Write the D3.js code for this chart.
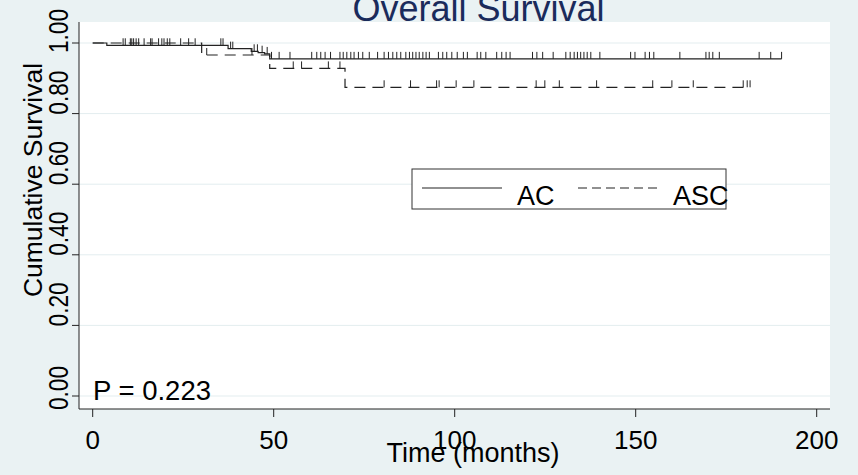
<!DOCTYPE html>
<html>
<head>
  <meta charset="utf-8" />
  <style>
    body { margin: 0; background: #eaf2f3; }
    svg { display: block; font-family: "Liberation Sans", Arial, sans-serif; }
  </style>
</head>
<body>
  <svg width="858" height="475"></svg>

  <script src="https://d3js.org/d3.v7.min.js"></script>
  <script>
    // step points of the two Kaplan-Meier curves (months, survival)
    var acTimes = [0, 3.9, 37.4, 43.8, 45.7, 47.5, 48.9];
    var acSurv = [1, 0.9935, 0.984, 0.9765, 0.9725, 0.969, 0.955];
    var acEnd = 190.3;

    var ascTimes = [0, 30.1, 48.9, 69.7];
    var ascSurv = [1, 0.966, 0.928, 0.8745];
    var ascEnd = 181.6;

    // censored observations
    var acCensor = [8.4, 9.0, 10.4, 10.8, 11.3, 12.0, 12.7, 14.2, 16.0, 16.4, 18.2, 19.1, 19.7, 20.6,
      21.3, 24.3, 26.5, 28.3, 35.4, 36.0, 38.1, 38.7, 44.6, 45.5, 46.8, 48.2,
      49.4, 51.5, 54.5, 60.5, 61.9, 63.0, 64.2, 65.7, 68.3, 69.2, 70.2, 71.3, 72.2, 73.4, 74.6,
      76.4, 78.7, 80.5, 81.7, 82.9, 84.0, 85.1, 86.5, 87.5, 88.4, 89.3, 90.2, 91.2, 92.1, 93.0,
      95.5, 96.7, 97.8, 99.2, 100.7, 102.4, 103.5, 106.2, 107.2, 108.6, 111.6, 113.0, 114.2,
      115.3, 121.5, 122.7, 124.3, 127.2, 130.7, 131.9, 133.0, 133.9, 134.8, 135.7, 136.6, 137.6,
      140.1, 148.6, 149.8, 152.6, 153.8, 155.0, 162.2, 169.4, 170.3, 171.3, 173.1, 184.1, 187.3, 190.3];
    var ascCensor = [31.5, 44.0, 55.4, 57.7, 65.1, 68.3, 80.5, 87.8, 95.0, 95.7, 100.4, 105.3,
      122.5, 124.9, 128.9, 139.2, 154.7, 160.0, 165.9, 179.7, 180.8, 181.6];

    var xTicks = [0, 50, 100, 150, 200];
    var yTicks = [0, 0.2, 0.4, 0.6, 0.8, 1.0];
    var seriesNames = ["AC", "ASC"];
    var pText = "P = 0.223";

    var svg = d3.select("svg");
    var ink = "#222";

    var x = d3.scaleLinear().domain([0, 200]).range([92.7, 816.7]);
    var y = d3.scaleLinear().domain([0, 1]).range([396, 43]);

    var plot = { left: 79, right: 830, top: 22, bottom: 409 };

    svg.append("rect").attr("width", 858).attr("height", 475).attr("fill", "#eaf2f3");
    svg.append("rect")
      .attr("x", plot.left).attr("y", plot.top)
      .attr("width", plot.right - plot.left).attr("height", plot.bottom - plot.top)
      .attr("fill", "#fff");

    // grid
    svg.append("g").selectAll("line").data(yTicks).enter().append("line")
      .attr("x1", plot.left).attr("x2", plot.right)
      .attr("y1", function (d) { return y(d); })
      .attr("y2", function (d) { return y(d); })
      .attr("stroke", "#e3edef").attr("stroke-width", 1);

    // axes
    svg.append("line").attr("x1", plot.left).attr("x2", plot.left)
      .attr("y1", plot.top).attr("y2", plot.bottom).attr("stroke", ink);
    svg.append("line").attr("x1", plot.left).attr("x2", plot.right)
      .attr("y1", plot.bottom).attr("y2", plot.bottom).attr("stroke", ink);

    var yAxis = svg.append("g");
    yAxis.selectAll("line").data(yTicks).enter().append("line")
      .attr("x1", plot.left - 7).attr("x2", plot.left)
      .attr("y1", function (d) { return y(d); })
      .attr("y2", function (d) { return y(d); })
      .attr("stroke", ink);

    // tick labels sit a bit above their ticks, kept inside the frame at the ends
    function labelY(d) {
      if (d === 0) return y(d) - 8;
      return Math.max(y(d) - 21, 31);
    }
    yAxis.selectAll("text").data(yTicks).enter().append("text")
      .attr("transform", function (d) {
        return "translate(68," + labelY(d) + ") rotate(-90) scale(0.84,1)";
      })
      .attr("text-anchor", "middle")
      .attr("font-size", 27)
      .attr("fill", "#000")
      .text(function (d) { return d3.format(".2f")(d); });

    var xAxis = svg.append("g");
    xAxis.selectAll("line").data(xTicks).enter().append("line")
      .attr("x1", function (d) { return x(d); })
      .attr("x2", function (d) { return x(d); })
      .attr("y1", plot.bottom).attr("y2", plot.bottom + 8)
      .attr("stroke", ink);
    xAxis.selectAll("text").data(xTicks).enter().append("text")
      .attr("x", function (d) { return x(d); })
      .attr("y", 449)
      .attr("text-anchor", "middle")
      .attr("font-size", 26)
      .text(function (d) { return d; });

    svg.append("text")
      .attr("x", 473).attr("y", 462)
      .attr("text-anchor", "middle").attr("font-size", 27)
      .text("Time (months)");

    svg.append("text")
      .attr("transform", "translate(42,180) rotate(-90)")
      .attr("text-anchor", "middle").attr("font-size", 26.5)
      .text("Cumulative Survival");

    svg.append("text")
      .attr("x", 478.5).attr("y", 21)
      .attr("text-anchor", "middle").attr("font-size", 36)
      .attr("fill", "#1a2b5b")
      .text("Overall Survival");

    // survival curves
    function stepPoints(times, surv, end) {
      var pts = times.map(function (t, i) { return [t, surv[i]]; });
      pts.push([end, surv[surv.length - 1]]);
      return pts;
    }
    function survAt(times, surv, t) {
      var s = surv[0];
      for (var i = 0; i < times.length; i++) {
        if (times[i] <= t) s = surv[i];
      }
      return s;
    }

    var line = d3.line()
      .x(function (d) { return x(d[0]); })
      .y(function (d) { return y(d[1]); })
      .curve(d3.curveStepAfter);

    var curves = [
      { times: acTimes, surv: acSurv, end: acEnd, censor: acCensor, dash: null },
      { times: ascTimes, surv: ascSurv, end: ascEnd, censor: ascCensor, dash: "11,7" }
    ];

    curves.forEach(function (c) {
      svg.append("path")
        .attr("d", line(stepPoints(c.times, c.surv, c.end)))
        .attr("fill", "none")
        .attr("stroke", ink)
        .attr("stroke-width", 1.2)
        .attr("stroke-dasharray", c.dash);

      svg.append("g").selectAll("line").data(c.censor).enter().append("line")
        .attr("x1", function (d) { return x(d); })
        .attr("x2", function (d) { return x(d); })
        .attr("y1", function (d) { return y(survAt(c.times, c.surv, d)); })
        .attr("y2", function (d) { return y(survAt(c.times, c.surv, d)) - 7; })
        .attr("stroke", ink)
        .attr("stroke-width", 1);
    });

    svg.append("text")
      .attr("x", 93).attr("y", 400)
      .attr("font-size", 27.5)
      .text(pText);

    // legend
    var legend = svg.append("g");
    legend.append("rect")
      .attr("x", 412).attr("y", 169).attr("width", 314).attr("height", 40)
      .attr("fill", "#fff").attr("stroke", "#333").attr("stroke-width", 1);
    legend.append("line")
      .attr("x1", 422).attr("x2", 502).attr("y1", 188).attr("y2", 188)
      .attr("stroke", ink).attr("stroke-width", 1.2);
    legend.append("text").attr("x", 517).attr("y", 205).attr("font-size", 27).text(seriesNames[0]);
    legend.append("line")
      .attr("x1", 578).attr("x2", 658).attr("y1", 188).attr("y2", 188)
      .attr("stroke", ink).attr("stroke-width", 1.2).attr("stroke-dasharray", "9,5");
    legend.append("text").attr("x", 673).attr("y", 205).attr("font-size", 27).text(seriesNames[1]);
  </script>
</body>
</html>
